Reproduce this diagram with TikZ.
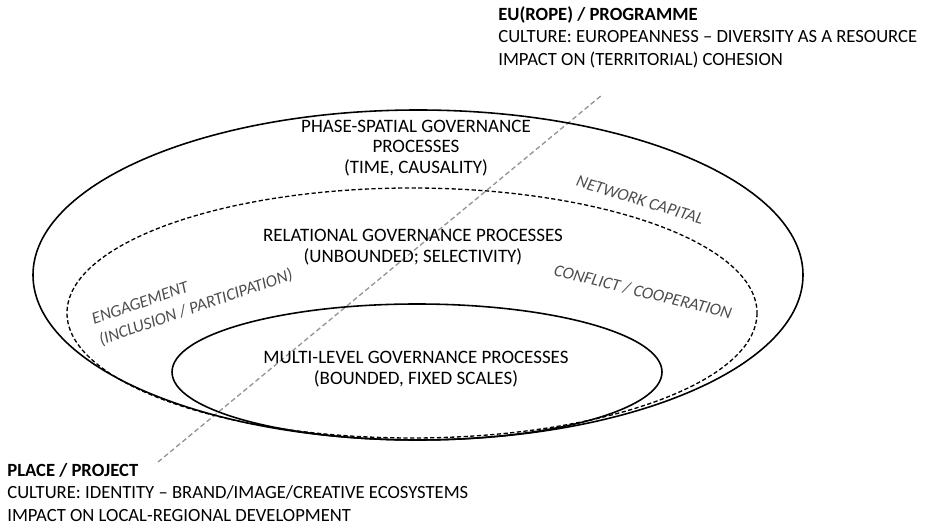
\documentclass[tikz,border=0pt]{standalone}
\usepackage{fontspec}
\setmainfont{Carlito}
\usetikzlibrary{positioning}

\begin{document}
\begin{tikzpicture}[x=0.2mm, y=-0.2mm,
    ring/.style={draw, line width=0.9pt},
    dashring/.style={draw, line width=0.75pt, dash pattern=on 2.4pt off 1.4pt},
    axisline/.style={draw=black!42, line width=0.75pt, dash pattern=on 2.8pt off 1.7pt},
    lab/.style={align=center, font=\fontsize{10.8}{11.7}\selectfont, inner sep=0pt},
    side/.style={font=\fontsize{9.7}{12.6}\selectfont\itshape, text=black!70, inner sep=0pt},
    head/.style={align=left, anchor=north west, font=\fontsize{10.6}{12.8}\selectfont, inner sep=0pt}
]
    \useasboundingbox (0,0) rectangle (925,528);

    % level axis from place to europe
    \coordinate (placeend) at (158,462);
    \coordinate (euend) at (602,95);
    \draw[axisline] (placeend) -- (euend);

    % the three governance layers
    \draw[ring] (418,275) ellipse [x radius=385, y radius=165];
    \draw[dashring] (412,313) ellipse [x radius=345, y radius=125];
    \draw[ring] (417,372) ellipse [x radius=245, y radius=68];

    \node[lab] (phase) at (416,148) {PHASE-SPATIAL GOVERNANCE\\PROCESSES\\(TIME, CAUSALITY)};
    \node[lab] (relational) at (413,247) {RELATIONAL GOVERNANCE PROCESSES\\(UNBOUNDED; SELECTIVITY)};
    \node[lab] (multilevel) at (416,369) {MULTI-LEVEL GOVERNANCE PROCESSES\\(BOUNDED, FIXED SCALES)};

    \node[side, rotate=-17] (network) at (640,200) {NETWORK CAPITAL};
    \node[side, rotate=-14] (conflict) at (643,292) {CONFLICT / COOPERATION};
    \node[side, rotate=19, align=left, anchor=west] (engage) at (96,331) {ENGAGEMENT\\(INCLUSION / PARTICIPATION)};

    % the two ends of the axis
    \node[head] (europe) at (498,6) {\textbf{EU(ROPE) / PROGRAMME}\\CULTURE:\ EUROPEANNESS -- DIVERSITY AS A RESOURCE\\IMPACT ON (TERRITORIAL) COHESION};
    \node[head] (place) at (7,463) {\textbf{PLACE / PROJECT}\\CULTURE:\ IDENTITY -- BRAND/IMAGE/CREATIVE ECOSYSTEMS\\IMPACT ON LOCAL-REGIONAL DEVELOPMENT};
\end{tikzpicture}
\end{document}
